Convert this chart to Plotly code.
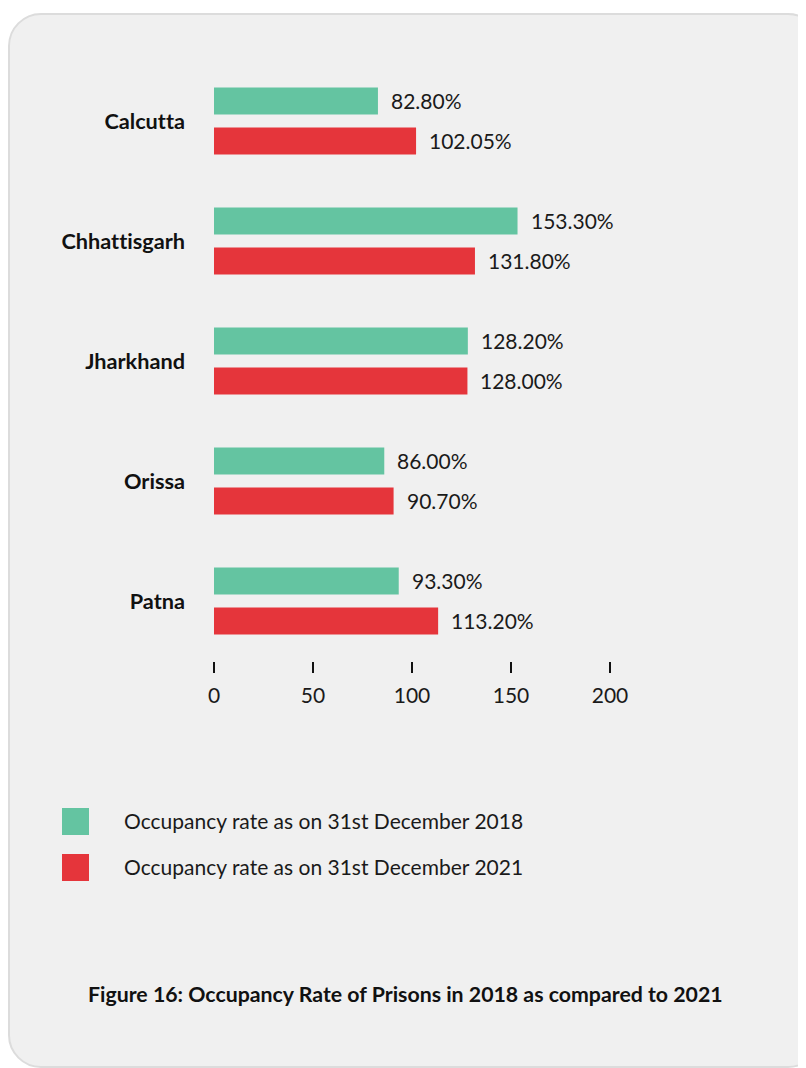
import plotly.graph_objects as go

categories = ["Calcutta", "Chhattisgarh", "Jharkhand", "Orissa", "Patna"]
rate_2018 = [82.80, 153.30, 128.20, 86.00, 93.30]
rate_2021 = [102.05, 131.80, 128.00, 90.70, 113.20]
series_names = ["Occupancy rate as on 31st December 2018",
                "Occupancy rate as on 31st December 2021"]
x_ticks = [0, 50, 100, 150, 200]
caption = "Figure 16: Occupancy Rate of Prisons in 2018 as compared to 2021"

GREEN = "#64c4a1"
RED = "#e5353b"
FONT = "Lato"

OFF = 8  # page body margin
W, H = 798, 1060
L, R, T, B = 206, 196, 53, 407
PW, PH = W - L - R, H - T - B


def px(x):
    return (x - OFF - L) / PW


def py(y):
    return (H - B - (y - OFF)) / PH


def no_lig(s):
    # avoid the Lato "tt"/"ti" ligatures
    return s.replace("tt", "t\u200ct").replace("ti", "t\u200ci")


fig = go.Figure()
fig.add_trace(go.Bar(y=categories, x=rate_2018, orientation="h", name=series_names[0],
                     marker=dict(color=GREEN, line=dict(width=0)), showlegend=False,
                     hoverinfo="skip"))
fig.add_trace(go.Bar(y=categories, x=rate_2021, orientation="h", name=series_names[1],
                     marker=dict(color=RED, line=dict(width=0)), showlegend=False,
                     hoverinfo="skip"))

annotations = []
for vals, shift in ((rate_2018, 20), (rate_2021, -20)):
    for c, v in zip(categories, vals):
        annotations.append(dict(x=v, y=c, xref="x", yref="y", text=f"{v:.2f}%",
                                showarrow=False, xanchor="left", yanchor="middle",
                                xshift=11, yshift=shift + 0.5,
                                font=dict(family=FONT, size=21, color="#1a1a1a")))

# legend (drawn manually for large swatches)
shapes = []
for i, (name, col) in enumerate(zip(series_names, [GREEN, RED])):
    y0 = 808 + i * 46
    shapes.append(dict(type="rect", xref="paper", yref="paper",
                       x0=px(62), x1=px(89), y0=py(y0 + 27), y1=py(y0),
                       fillcolor=col, line=dict(width=0), layer="above"))
    annotations.append(dict(x=px(122), y=py(y0 + 12.5), xref="paper", yref="paper",
                            text=name, showarrow=False, xanchor="left", yanchor="middle",
                            font=dict(family=FONT, size=21, color="#1a1a1a")))

annotations.append(dict(x=px(405), y=py(994), xref="paper", yref="paper", text=f"<b>{caption}</b>",
                        showarrow=False, xanchor="center", yanchor="middle",
                        font=dict(family=FONT, size=21.3, color="#111111")))

# rounded panel
x0, x1, y0, y1, r = 9, 820, 14, 1067, 32
k = 0.45
path = (f"M {px(x0 + r)} {py(y0)} L {px(x1 - r)} {py(y0)} "
        f"C {px(x1 - r * k)} {py(y0)} {px(x1)} {py(y0 + r * k)} {px(x1)} {py(y0 + r)} "
        f"L {px(x1)} {py(y1 - r)} "
        f"C {px(x1)} {py(y1 - r * k)} {px(x1 - r * k)} {py(y1)} {px(x1 - r)} {py(y1)} "
        f"L {px(x0 + r)} {py(y1)} "
        f"C {px(x0 + r * k)} {py(y1)} {px(x0)} {py(y1 - r * k)} {px(x0)} {py(y1 - r)} "
        f"L {px(x0)} {py(y0 + r)} "
        f"C {px(x0)} {py(y0 + r * k)} {px(x0 + r * k)} {py(y0)} {px(x0 + r)} {py(y0)} Z")
shapes.insert(0, dict(type="path", xref="paper", yref="paper", path=path,
                      fillcolor="#f0f0f0", line=dict(color="#dcdcdc", width=2), layer="below"))

fig.update_layout(
    width=W, height=H, autosize=False,
    margin=dict(l=L, r=R, t=T, b=B, pad=0),
    paper_bgcolor="white", plot_bgcolor="rgba(0,0,0,0)",
    barmode="group", bargap=0.333, bargroupgap=0.325,
    shapes=shapes, annotations=annotations,
    font=dict(family=FONT, color="#1a1a1a"),
    xaxis=dict(range=[0, 200], tickvals=x_ticks, ticktext=[str(t) for t in x_ticks],
               showgrid=False, zeroline=False, showline=False,
               ticks="outside", ticklen=11, tickwidth=2, tickcolor="#111111",
               tickfont=dict(family=FONT, size=21, color="#1a1a1a"), ticklabelstandoff=5),
    yaxis=dict(categoryorder="array", categoryarray=categories, autorange="reversed",
               showgrid=False, zeroline=False, showline=False, ticks="",
               tickfont=dict(family=FONT, size=21.7, color="#111111"),
               ticklabelstandoff=28,
               tickvals=categories, ticktext=[f"<b>{no_lig(c)}</b>" for c in categories]),
)

fig.write_html("out.html")
